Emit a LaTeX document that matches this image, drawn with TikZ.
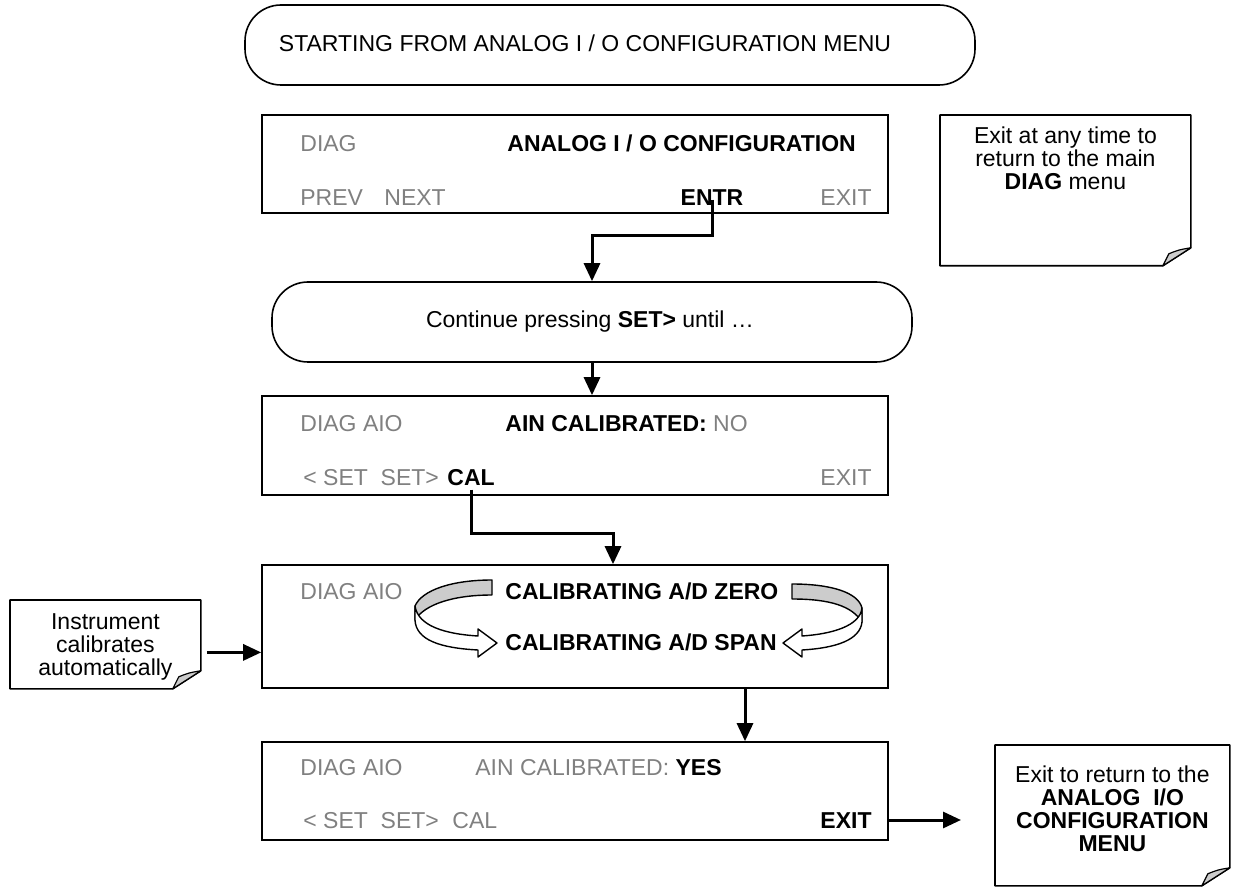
\documentclass[tikz,border=0pt]{standalone}
\usepackage{fontspec}
\setmainfont{Liberation Sans}
\usetikzlibrary{positioning,arrows.meta,calc}
\definecolor{dimtext}{RGB}{128,128,128}
\definecolor{curl}{RGB}{204,204,204}
\newcommand{\fs}{\fontsize{11.5}{11.5}\selectfont}

\begin{document}
\begin{tikzpicture}[x=0.5pt, y=-0.5pt, font=\fs,
      term/.style={draw, line width=0.8pt, rounded corners=18pt, minimum height=40pt},
      screen/.style={draw, line width=0.8pt, minimum width=313pt},
      note/.style={inner sep=0pt, anchor=north west},
      dim/.style={text=dimtext, anchor=west, inner sep=0pt, text height=8.3pt, text depth=0pt},
      key/.style={font=\fs\bfseries, anchor=west, inner sep=0pt, text height=8.3pt, text depth=0pt},
      arr/.style={-{Triangle[length=9pt,width=8pt]}, line width=1.5pt},
      ribbon/.style={draw, line width=0.7pt, line join=round}]
    \useasboundingbox (0,0) rectangle (1243,893);
    % start and prompt
    \node[term, minimum width=365pt] (start) at (610,45) {};
    \node[inner sep=0pt] (starttxt) at (585,43) {STARTING FROM ANALOG I / O CONFIGURATION MENU};
    \node[term, minimum width=320pt] (cont) at (592,322) {};
    \node[inner sep=0pt] (conttxt) at (590,322) {Continue pressing \textbf{SET>} until \dots};
    % screen 1
    \node[screen, minimum height=49pt] (s1) at (575,164) {};
    \node[dim] (s1diag) at (300,143) {DIAG};
    \node[key] (s1title) at (507,143) {ANALOG I / O CONFIGURATION};
    \node[dim] (s1prev) at (300,197) {PREV};
    \node[dim] (s1next) at (384,197) {NEXT};
    \node[key, anchor=center] (s1entr) at (712,197) {ENTR};
    \node[dim, anchor=center] (s1exit) at (846,197) {EXIT};
    % screen 2
    \node[screen, minimum height=49.5pt] (s2) at (575,445.5) {};
    \node[dim] (s2diag) at (300,423) {DIAG AIO};
    \node[key] (s2title) at (505,423) {AIN CALIBRATED: \textcolor{dimtext}{\mdseries NO}};
    \node[dim] (s2set) at (303,477) {< SET\ \ SET>};
    \node[key] (s2cal) at (447,477) {CAL};
    \node[dim, anchor=center] (s2exit) at (846,477) {EXIT};
    % screen 3
    \node[screen, minimum height=61.5pt] (s3) at (575,626.5) {};
    \node[dim] (s3diag) at (300,591) {DIAG AIO};
    \node[key] (s3zero) at (505,591) {CALIBRATING A/D ZERO};
    \node[key] (s3span) at (505,642) {CALIBRATING A/D SPAN};
    % screen 4
    \node[screen, minimum height=49pt] (s4) at (575,791) {};
    \node[dim] (s4diag) at (300,767) {DIAG AIO};
    \node[dim] (s4title) at (475,767) {AIN CALIBRATED: \textcolor{black}{\bfseries YES}};
    \node[dim] (s4set) at (303,820) {< SET\ \ SET>};
    \node[dim] (s4cal) at (452,820) {CAL};
    \node[key, anchor=center] (s4exit) at (846,820) {EXIT};
    % notes
    \node[note] (n1) at (940,115) {\begin{minipage}[t][75pt][t]{125pt}\centering\vspace{5.5pt}
      Exit at any time to\\ return to the main\\ \textbf{DIAG} menu\end{minipage}};
    \node[note] (n2) at (10,600) {\begin{minipage}[t][44pt][t]{95pt}\centering\vspace{6.5pt}
      Instrument\\ calibrates\\ automatically\end{minipage}};
    \node[note] (n3) at (995,745) {\begin{minipage}[t][70pt][t]{117pt}\centering\vspace{10pt}
      Exit to return to the\\ \textbf{ANALOG\ \ I/O}\\ \textbf{CONFIGURATION}\\ \textbf{MENU}\end{minipage}};
    \foreach \n in {n1,n2,n3} {
      \draw[line width=0.8pt, line join=round] (\n.north west) -- (\n.north east)
        -- ([yshift=9pt]\n.south east) -- ([xshift=-14pt]\n.south east) -- (\n.south west) -- cycle;
      \draw[fill=curl, line width=0.6pt, line join=round] ([yshift=9pt]\n.south east)
        .. controls ([xshift=-6pt,yshift=8pt]\n.south east) .. ([xshift=-11pt,yshift=6pt]\n.south east)
        -- ([xshift=-14pt]\n.south east) -- cycle;
    }
    % connectors
    \coordinate (n2out) at ([xshift=3pt,yshift=-4pt]n2.east);
    \draw[arr] (s1entr.south) ++(0,-6) -- ++(0,36) -| (cont.north);
    \draw[arr] (cont.south) -- (s2.north -| cont.south);
    \draw[arr] ([yshift=-2pt]s2cal.south) -- ++(0,44) -| ([xshift=19pt]s3.north);
    \draw[arr] ([xshift=85pt]s3.south) -- ([xshift=85pt]s4.north);
    \draw[arr] (n2out) -- (s3.west |- n2out);
    \draw[arr] (s4.east |- s4exit) -- ([xshift=-17pt]n3.west |- s4exit);
    % left turn-around ribbon
    \draw[ribbon, fill=curl] (492,580) .. controls (452,580) and (422,590) .. (415,606)
      -- (415,620) .. controls (425,604) and (454,595) .. (492,595) -- cycle;
    \draw[ribbon, fill=white] (415,606) .. controls (418,626) and (445,634) .. (478,636)
      -- (478,629) -- (497,643) -- (478,657) -- (478,650)
      .. controls (440,648) and (416,640) .. (415,620) -- cycle;
    % right turn-around ribbon
    \draw[ribbon, fill=curl] (792,584) .. controls (830,584) and (858,592) .. (862,608)
      -- (862,622) .. controls (852,606) and (830,599) .. (792,599) -- cycle;
    \draw[ribbon, fill=white] (862,608) .. controls (860,626) and (832,634) .. (802,636)
      -- (802,629) -- (783,643) -- (802,657) -- (802,650)
      .. controls (836,648) and (860,640) .. (862,622) -- cycle;
  \end{tikzpicture}
\end{document}
